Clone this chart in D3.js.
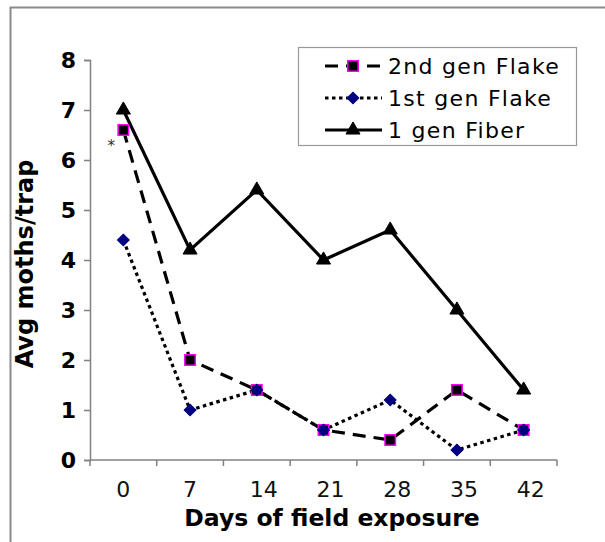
<!DOCTYPE html>
<html>
<head>
<meta charset="utf-8">
<script src="https://cdn.jsdelivr.net/npm/d3@7"></script>
<style>
  html, body { margin: 0; padding: 0; background: #fff; }
  svg { display: block; font-family: "DejaVu Sans", Verdana, sans-serif; }
</style>
</head>
<body>
<svg id="chart" width="605" height="542"></svg>
<script>
// Days of field exposure (category axis)
const days = ["0", "7", "14", "21", "28", "35", "42"];
// Average moths per trap for each lure type
const secondGenFlake = [6.6, 2.0, 1.4, 0.6, 0.4, 1.4, 0.6];
const firstGenFlake  = [4.4, 1.0, 1.4, 0.6, 1.2, 0.2, 0.6];
const oneGenFiber    = [7.0, 4.2, 5.4, 4.0, 4.6, 3.0, 1.4];
const yTicks = [0, 1, 2, 3, 4, 5, 6, 7, 8];
const seriesNames = ["2nd gen Flake", "1st gen Flake", "1 gen Fiber"];

const svg = d3.select("#chart");

// outer frame (top and left edges visible)
svg.append("path")
  .attr("d", "M10.5,542 V7.5 H605")
  .attr("fill", "none").attr("stroke", "#8a8a8a").attr("stroke-width", 2);

const plotLeft = 90, plotRight = 557, plotTop = 60, plotBottom = 460;

const x = d3.scaleBand().domain(days).range([plotLeft, plotRight]).padding(0);
const y = d3.scaleLinear().domain([0, 8]).range([plotBottom, plotTop]);
const cx = d => x(d) + x.bandwidth() / 2;

// y axis
const yAxis = svg.append("g")
  .attr("transform", `translate(${plotLeft},0)`)
  .call(d3.axisLeft(y).tickValues(yTicks).tickSize(6).tickPadding(8).tickFormat(d3.format("d")));
yAxis.select(".domain").attr("stroke", "#808080").attr("stroke-width", 1.5);
yAxis.selectAll(".tick line").attr("stroke", "#808080").attr("stroke-width", 1.5);
yAxis.selectAll(".tick text")
  .attr("font-size", 22).attr("font-weight", "bold").attr("fill", "#000")
  .attr("font-family", "DejaVu Sans, Verdana, sans-serif");

// x axis: ticks sit on category boundaries
const xg = svg.append("g").attr("transform", `translate(0,${plotBottom})`);
xg.append("line").attr("x1", plotLeft).attr("x2", plotRight).attr("y1", 0).attr("y2", 0)
  .attr("stroke", "#808080").attr("stroke-width", 1.5);
const boundaries = days.map(d => x(d)).concat([x(days[days.length - 1]) + x.bandwidth()]);
xg.selectAll("line.tk").data(boundaries).join("line").attr("class", "tk")
  .attr("x1", d => d).attr("x2", d => d).attr("y1", 0).attr("y2", 6)
  .attr("stroke", "#808080").attr("stroke-width", 1.5);
xg.selectAll("text").data(days).join("text")
  .attr("x", d => cx(d) - 7).attr("y", 37)
  .attr("text-anchor", "start").attr("font-size", 22).attr("fill", "#111")
  .text(d => d);

// axis titles
svg.append("text")
  .attr("x", 332).attr("y", 526)
  .attr("text-anchor", "middle").attr("font-size", 23.5).attr("font-weight", "bold")
  .text("Days of field exposure");
svg.append("text")
  .attr("transform", "translate(33,264) rotate(-90)")
  .attr("text-anchor", "middle").attr("font-size", 24).attr("font-weight", "bold")
  .text("Avg moths/trap");

const line = d3.line().x((v, i) => cx(days[i])).y(v => y(v));

const series = [
  { name: seriesNames[0], values: secondGenFlake, dash: "13,8", symbol: d3.symbolSquare, size: 110, rot: 0, fill: "#000", stroke: "#ff00ff", sw: 1.5 },
  { name: seriesNames[1], values: firstGenFlake, dash: "3.5,3.5", symbol: d3.symbolSquare, size: 70, rot: 45, fill: "#000080", stroke: "#000080", sw: 1 },
  { name: seriesNames[2], values: oneGenFiber, dash: null, symbol: d3.symbolTriangle, size: 85, rot: 0, fill: "#000", stroke: "#000", sw: 1 }
];

series.forEach(s => {
  svg.append("path").datum(s.values)
    .attr("d", line).attr("fill", "none").attr("stroke", "#000")
    .attr("stroke-width", 3.2).attr("stroke-dasharray", s.dash);
});
series.forEach(s => {
  svg.append("g").selectAll("path").data(s.values).join("path")
    .attr("transform", (v, i) => `translate(${cx(days[i])},${y(v)}) rotate(${s.rot})`)
    .attr("d", d3.symbol().type(s.symbol).size(s.size))
    .attr("fill", s.fill).attr("stroke", s.stroke).attr("stroke-width", s.sw);
});

// significance marker on day 0
svg.append("text").attr("x", cx(days[0]) - 12).attr("y", y(6.6) + 21)
  .attr("text-anchor", "middle").attr("font-size", 15).attr("fill", "#333").text("*");

// legend
const lg = svg.append("g");
lg.append("rect").attr("x", 298.5).attr("y", 47.5).attr("width", 278).attr("height", 98)
  .attr("fill", "#fff").attr("stroke", "#999").attr("stroke-width", 1.2);
series.forEach((s, i) => {
  const ly = 66 + i * 32;
  lg.append("line").attr("x1", 325).attr("x2", 382).attr("y1", ly).attr("y2", ly)
    .attr("stroke", "#000").attr("stroke-width", 3.2).attr("stroke-dasharray", s.dash);
  lg.append("path").attr("transform", `translate(353,${ly}) rotate(${s.rot})`)
    .attr("d", d3.symbol().type(s.symbol).size(s.size))
    .attr("fill", s.fill).attr("stroke", s.stroke).attr("stroke-width", s.sw);
  lg.append("text").attr("x", 388).attr("y", ly + 8)
    .attr("font-size", 22).attr("letter-spacing", 1.3).attr("fill", "#000").text(s.name);
});
</script>
</body>
</html>
